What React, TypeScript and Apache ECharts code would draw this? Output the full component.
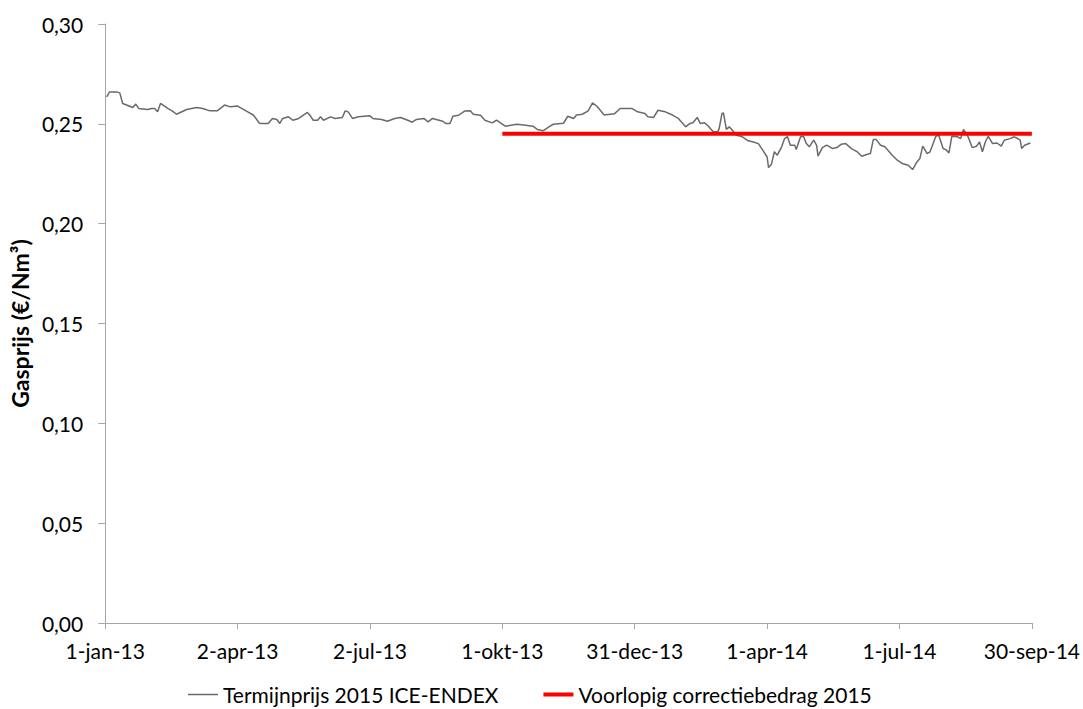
import React, { useEffect, useRef } from "react";
import * as echarts from "echarts";

// Days since 1-jan-2013 and Termijnprijs 2015 ICE-ENDEX (€/Nm³)
const dayOffsets = [
  1, 3, 8, 10, 12, 19, 21, 23, 29, 32, 34, 36, 38, 43, 46, 49, 56, 63, 67, 72,
  77, 82, 86, 91, 98, 102, 106, 108, 112, 115, 118, 120, 122, 126, 129, 133, 139, 141, 143, 146,
  148, 150, 155, 158, 163, 165, 167, 170, 174, 182, 184, 190, 194, 199, 203, 208, 211, 214, 219, 222,
  225, 232, 234, 237, 239, 243, 247, 251, 253, 258, 261, 266, 269, 275, 283, 289, 294, 297, 301, 305,
  308, 315, 318, 322, 324, 328, 332, 335, 338, 343, 350, 354, 362, 366, 371, 373, 377, 380, 385, 390,
  392, 394, 399, 402, 404, 407, 409, 412, 414, 418, 421, 422, 424, 425, 427, 429, 432, 434, 438, 442,
  445, 449, 452, 455, 456, 458, 460, 462, 465, 467, 469, 471, 474, 475, 478, 480, 482, 484, 487, 489,
  490, 493, 496, 500, 503, 506, 509, 513, 517, 520, 524, 526, 528, 530, 533, 536, 541, 544, 548, 552,
  555, 558, 560, 562, 565, 567, 571, 573, 576, 578, 580, 582, 586, 588, 590, 593, 596, 599, 601, 603,
  605, 607, 610, 613, 616, 618, 622, 625, 629, 630, 632, 636,
];
const prices = [
  0.2635, 0.266, 0.266, 0.2655, 0.2602, 0.2582, 0.2599, 0.2577, 0.2572, 0.2577, 0.2577, 0.256, 0.2602, 0.2577, 0.2565, 0.2548, 0.2572, 0.2582, 0.2577, 0.2565,
  0.2565, 0.2594, 0.2585, 0.2589, 0.256, 0.2543, 0.2503, 0.2502, 0.2502, 0.2527, 0.2522, 0.2502, 0.2527, 0.2535, 0.2518, 0.2527, 0.2557, 0.254, 0.2518, 0.2518,
  0.2535, 0.2518, 0.2535, 0.2527, 0.2532, 0.2565, 0.256, 0.2527, 0.2535, 0.254, 0.2527, 0.2522, 0.2513, 0.2527, 0.2532, 0.2518, 0.2508, 0.2522, 0.2527, 0.251,
  0.2527, 0.2513, 0.2502, 0.2502, 0.2538, 0.2543, 0.2564, 0.2565, 0.2548, 0.2543, 0.2518, 0.2505, 0.2518, 0.2488, 0.2498, 0.2493, 0.2488, 0.2472, 0.2465, 0.2485,
  0.2498, 0.2503, 0.2538, 0.2527, 0.2544, 0.2548, 0.2565, 0.2605, 0.2588, 0.2544, 0.255, 0.2577, 0.2577, 0.256, 0.2552, 0.2535, 0.2532, 0.2568, 0.256, 0.2544,
  0.2535, 0.2527, 0.2485, 0.2502, 0.2505, 0.2532, 0.2502, 0.2505, 0.2493, 0.246, 0.246, 0.2475, 0.2552, 0.2555, 0.2472, 0.2485, 0.246, 0.2443, 0.2435, 0.2415,
  0.241, 0.2401, 0.2368, 0.2334, 0.2281, 0.2298, 0.236, 0.2343, 0.2385, 0.2426, 0.2436, 0.2393, 0.2393, 0.2371, 0.2435, 0.2438, 0.2401, 0.2385, 0.2418, 0.2393,
  0.2338, 0.2381, 0.2393, 0.2376, 0.2381, 0.2398, 0.2401, 0.2376, 0.236, 0.2338, 0.2348, 0.2351, 0.2421, 0.2421, 0.2393, 0.2385, 0.2343, 0.2321, 0.2301, 0.2293,
  0.2271, 0.2309, 0.2326, 0.2388, 0.2351, 0.236, 0.2438, 0.2443, 0.2376, 0.237, 0.2354, 0.2438, 0.2435, 0.2426, 0.2472, 0.2438, 0.2381, 0.2388, 0.2409, 0.236,
  0.2409, 0.2438, 0.2401, 0.2404, 0.2388, 0.2418, 0.2426, 0.2435, 0.2418, 0.2376, 0.2393, 0.2404,
];

// Voorlopig correctiebedrag 2015: from 1-okt-13 to 30-sep-14
const correctionDays = [273, 637];
const correctionValue = 0.245;

const startDateUTC = Date.UTC(2013, 0, 1);
const xMin = 0;
const xMax = 637;
const xInterval = 91;
const yMin = 0;
const yMax = 0.3;
const yInterval = 0.05;
const monthNames = ["jan", "feb", "mrt", "apr", "mei", "jun", "jul", "aug", "sep", "okt", "nov", "dec"];

const seriesNames = ["Termijnprijs 2015 ICE-ENDEX", "Voorlopig correctiebedrag 2015"];
const yAxisTitle = "Gasprijs (€/Nm³)";

function dayLabel(d: number): string {
  const dt = new Date(startDateUTC + d * 86400000);
  const yy = String(dt.getUTCFullYear() % 100).padStart(2, "0");
  return `${dt.getUTCDate()}-${monthNames[dt.getUTCMonth()]}-${yy}`;
}

const FONT = "Lato";
const GREY = "#6A6A6A";
const RED = "#FF0000";

export default function App() {
  const ref = useRef<HTMLDivElement>(null);
  useEffect(() => {
    document.body.style.margin = "0";
    if (!ref.current) return;
    const chart = echarts.init(ref.current, undefined, { renderer: "svg" });
    const lineData = dayOffsets.map((d, i) => [d, prices[i]]);
    const redData = correctionDays.map((d) => [d, correctionValue]);
    chart.setOption({
      animation: false,
      backgroundColor: "#ffffff",
      textStyle: { fontFamily: FONT },
      grid: { left: 105, right: 51, top: 24, bottom: 86, containLabel: false },
      xAxis: {
        type: "value",
        min: xMin,
        max: xMax,
        interval: xInterval,
        axisLine: { show: true, lineStyle: { color: "#A6A6A6", width: 1 } },
        axisTick: { show: true, inside: false, length: 6, lineStyle: { color: "#A6A6A6" } },
        splitLine: { show: false },
        axisLabel: {
          formatter: (v: number) => dayLabel(v),
          color: "#000",
          fontSize: 21,
          fontFamily: FONT,
          margin: 17,
          showMinLabel: true,
          showMaxLabel: true,
        },
      },
      yAxis: {
        type: "value",
        min: yMin,
        max: yMax,
        interval: yInterval,
        name: yAxisTitle,
        nameLocation: "middle",
        nameRotate: 90,
        nameGap: 73,
        nameTextStyle: { fontSize: 23, fontWeight: "bold", color: "#000", fontFamily: FONT },
        axisLine: { show: true, lineStyle: { color: "#A6A6A6", width: 1 } },
        axisTick: { show: true, inside: false, length: 7, lineStyle: { color: "#A6A6A6" } },
        splitLine: { show: false },
        axisLabel: {
          formatter: (v: number) => v.toFixed(2).replace(".", ","),
          color: "#000",
          fontSize: 21,
          fontFamily: FONT,
          margin: 22,
        },
      },
      legend: {
        top: 679,
        left: 183,
        padding: 5,
        itemWidth: 30,
        itemHeight: 14,
        itemGap: 45,
        textStyle: { fontSize: 21, color: "#000", fontFamily: FONT },
        data: [
          { name: seriesNames[0], icon: "path://M0,0H30V1.5H0Z", itemStyle: { color: GREY } },
          { name: seriesNames[1], icon: "path://M0,0H30V4H0Z", itemStyle: { color: RED } },
        ],
      },
      series: [
        {
          name: seriesNames[0],
          type: "line",
          data: lineData,
          symbol: "none",
          lineStyle: { color: GREY, width: 1.5 },
          itemStyle: { color: GREY },
        },
        {
          name: seriesNames[1],
          type: "line",
          data: redData,
          symbol: "none",
          lineStyle: { color: RED, width: 4 },
          itemStyle: { color: RED },
          z: 3,
        },
      ],
    });
    return () => chart.dispose();
  }, []);
  return <div ref={ref} style={{ width: 1083, height: 709 }} />;
}
